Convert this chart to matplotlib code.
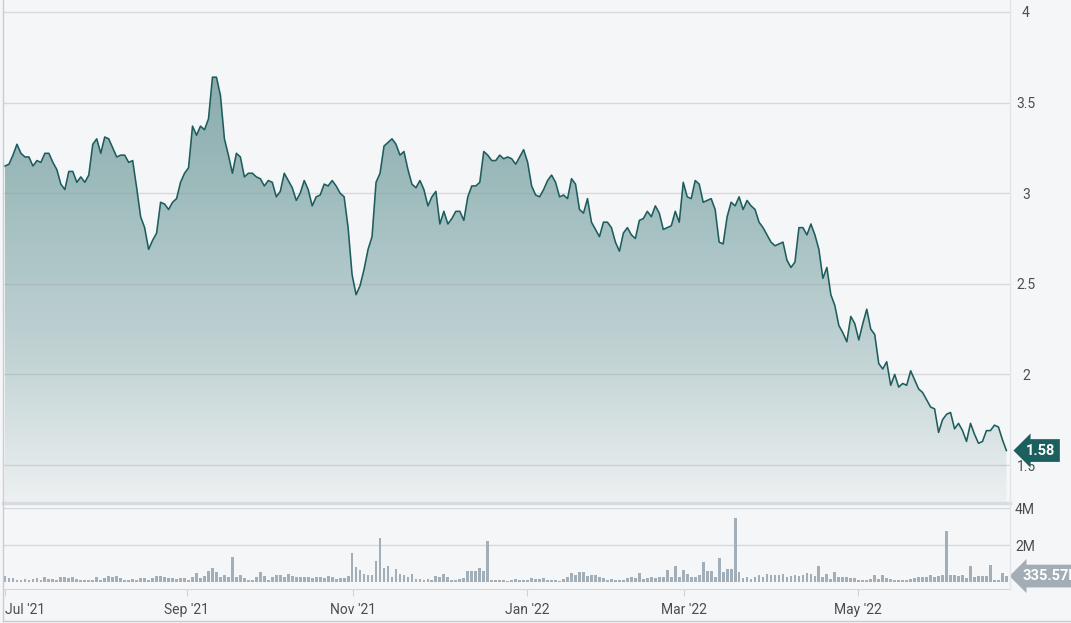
import numpy as np
import matplotlib
matplotlib.use("Agg")
import matplotlib.pyplot as plt
from matplotlib.colors import LinearSegmentedColormap
from matplotlib.transforms import blended_transform_factory
from matplotlib.lines import Line2D

plt.rcParams['font.family'] = ['Roboto', 'DejaVu Sans']

# daily close, Jul '21 - Jun '22
price = [
    3.15, 3.16, 3.21, 3.27, 3.22, 3.20, 3.20, 3.15, 3.18, 3.17,
    3.22, 3.22, 3.17, 3.13, 3.05, 3.02, 3.12, 3.12, 3.06, 3.09,
    3.06, 3.10, 3.27, 3.30, 3.22, 3.31, 3.30, 3.25, 3.20, 3.21,
    3.21, 3.17, 3.18, 3.03, 2.87, 2.81, 2.69, 2.74, 2.78, 2.95,
    2.94, 2.91, 2.95, 2.97, 3.06, 3.11, 3.14, 3.37, 3.32, 3.37,
    3.35, 3.41, 3.64, 3.64, 3.54, 3.30, 3.21, 3.11, 3.22, 3.20,
    3.09, 3.11, 3.11, 3.09, 3.08, 3.04, 3.07, 3.06, 2.98, 3.01,
    3.11, 3.07, 3.03, 2.96, 3.00, 3.07, 3.02, 2.93, 2.98, 2.99,
    3.05, 3.04, 3.07, 3.04, 3.00, 2.98, 2.81, 2.55, 2.44, 2.49,
    2.58, 2.69, 2.76, 3.06, 3.11, 3.26, 3.28, 3.30, 3.27, 3.21,
    3.23, 3.13, 3.05, 3.03, 3.07, 3.02, 2.93, 2.98, 3.01, 2.83,
    2.90, 2.83, 2.86, 2.90, 2.90, 2.85, 2.98, 3.04, 3.04, 3.06,
    3.23, 3.21, 3.18, 3.18, 3.21, 3.19, 3.20, 3.19, 3.16, 3.20,
    3.24, 3.17, 3.04, 2.99, 2.98, 3.02, 3.07, 3.10, 3.06, 2.98,
    2.99, 2.97, 3.08, 3.05, 2.91, 2.89, 2.97, 2.84, 2.80, 2.76,
    2.84, 2.84, 2.81, 2.73, 2.68, 2.78, 2.81, 2.77, 2.75, 2.85,
    2.86, 2.90, 2.87, 2.93, 2.89, 2.80, 2.81, 2.82, 2.90, 2.84,
    3.06, 2.98, 2.97, 3.07, 3.05, 2.95, 2.96, 2.97, 2.91, 2.73,
    2.72, 2.87, 2.95, 2.93, 2.98, 2.91, 2.96, 2.93, 2.91, 2.84,
    2.81, 2.77, 2.73, 2.71, 2.72, 2.73, 2.63, 2.59, 2.62, 2.81,
    2.81, 2.77, 2.83, 2.77, 2.69, 2.53, 2.59, 2.44, 2.38, 2.27,
    2.23, 2.18, 2.32, 2.28, 2.19, 2.28, 2.36, 2.25, 2.22, 2.06,
    2.03, 2.07, 1.94, 2.00, 1.93, 1.95, 1.94, 2.02, 1.97, 1.92,
    1.90, 1.86, 1.82, 1.81, 1.68, 1.75, 1.78, 1.79, 1.70, 1.73,
    1.69, 1.63, 1.73, 1.67, 1.62, 1.63, 1.69, 1.69, 1.72, 1.71,
    1.64, 1.58,
]

# daily volume in millions
volume = [
    0.33, 0.22, 0.22, 0.10, 0.10, 0.20, 0.10, 0.20, 0.25, 0.15,
    0.30, 0.20, 0.20, 0.10, 0.30, 0.30, 0.25, 0.30, 0.20, 0.15,
    0.12, 0.12, 0.15, 0.30, 0.12, 0.25, 0.35, 0.30, 0.35, 0.25,
    0.10, 0.10, 0.20, 0.12, 0.22, 0.25, 0.15, 0.25, 0.35, 0.32,
    0.30, 0.25, 0.22, 0.18, 0.22, 0.25, 0.15, 0.30, 0.50, 0.25,
    0.35, 0.60, 0.80, 0.55, 0.30, 0.40, 0.30, 1.37, 0.30, 0.40,
    0.25, 0.15, 0.15, 0.30, 0.55, 0.35, 0.15, 0.30, 0.40, 0.40,
    0.30, 0.45, 0.35, 0.30, 0.30, 0.30, 0.30, 0.25, 0.30, 0.30,
    0.25, 0.35, 0.30, 0.20, 0.22, 0.25, 0.35, 1.59, 0.84, 0.66,
    0.45, 0.42, 0.40, 1.14, 2.41, 0.75, 0.91, 0.30, 0.70, 0.45,
    0.38, 0.30, 0.45, 0.20, 0.20, 0.15, 0.20, 0.12, 0.35, 0.30,
    0.45, 0.30, 0.15, 0.15, 0.20, 0.25, 0.62, 0.62, 0.62, 0.80,
    0.60, 2.21, 0.15, 0.10, 0.10, 0.10, 0.05, 0.10, 0.20, 0.10,
    0.12, 0.15, 0.22, 0.20, 0.20, 0.25, 0.15, 0.15, 0.12, 0.05,
    0.20, 0.30, 0.50, 0.40, 0.55, 0.55, 0.35, 0.40, 0.42, 0.30,
    0.22, 0.15, 0.20, 0.15, 0.15, 0.15, 0.25, 0.28, 0.22, 0.48,
    0.20, 0.25, 0.30, 0.25, 0.30, 0.30, 0.66, 0.30, 0.88, 0.30,
    0.67, 0.45, 0.30, 0.30, 0.40, 1.12, 0.60, 0.60, 0.30, 1.33,
    0.58, 0.70, 0.72, 3.46, 0.54, 0.25, 0.30, 0.20, 0.30, 0.40,
    0.30, 0.45, 0.40, 0.40, 0.40, 0.45, 0.30, 0.35, 0.40, 0.35,
    0.40, 0.50, 0.45, 0.35, 0.88, 0.30, 0.45, 0.20, 0.54, 0.30,
    0.30, 0.30, 0.25, 0.25, 0.15, 0.15, 0.15, 0.20, 0.40, 0.20,
    0.40, 0.25, 0.20, 0.15, 0.15, 0.12, 0.15, 0.20, 0.25, 0.30,
    0.30, 0.30, 0.40, 0.30, 0.35, 0.40, 2.78, 0.40, 0.40, 0.35,
    0.40, 0.25, 0.86, 0.30, 0.35, 0.35, 0.35, 0.94, 0.15, 0.12,
    0.49, 0.34,
]

month_labels = ["Jul '21", "Sep '21", "Nov '21", "Jan '22", "Mar '22", "May '22"]
price_ticks = [1.5, 2, 2.5, 3, 3.5, 4]
vol_ticks = [2, 4]
last_price_label = "1.58"
last_vol_label = "335.57K"

bg = '#f5f6f8'
grid_c = '#8e98a2'
line_c = '#1e5d5d'
text_c = '#4a4d52'

x = np.arange(len(price))
month_idx = [0, 45.6, 87.2, 130.8, 170.2, 213.8]
xlim = (-0.25, 251.9)

W, H = 1071, 623
fig = plt.figure(figsize=(W / 100, H / 100), dpi=100, facecolor=bg)
ax = fig.add_axes([4 / W, 1 - 502 / H, 1006 / W, 502 / H], facecolor=bg)
axv = fig.add_axes([4 / W, 1 - 589 / H, 1006 / W, 81 / H], facecolor=bg)

ylo, yhi = 1.296, 4.066
ax.set_xlim(*xlim)
ax.set_ylim(ylo, yhi)

# gradient area under the line
cmap = LinearSegmentedColormap.from_list('g', ['#edf0f1', '#c2d3d4', '#a3bfc0', '#89aaab'])
grad = np.linspace(0, 1, 256).reshape(-1, 1)
im = ax.imshow(grad, cmap=cmap, origin='lower', aspect='auto',
               extent=[xlim[0], xlim[1], ylo, 3.7], zorder=1)
poly = ax.fill_between(x, price, ylo, facecolor='none', edgecolor='none')
im.set_clip_path(poly.get_paths()[0], transform=ax.transData)
ax.plot(x, price, color=line_c, lw=1.15, zorder=3)

ax.set_yticks(price_ticks)
ax.set_yticklabels(['%g' % t for t in price_ticks])
ax.yaxis.tick_right()
ax.tick_params(axis='y', length=0, pad=11.5, labelsize=10, colors=text_c)
for lab in ax.get_yticklabels():
    lab.set_horizontalalignment('center')
ax.grid(axis='y', color=grid_c, alpha=0.3, lw=1)
ax.set_xticks([])
for s in ax.spines.values():
    s.set_visible(False)

# last price tag
tr = blended_transform_factory(ax.transAxes, ax.transData)
ax.text(1.016, price[-1], last_price_label, transform=tr, ha='left', va='center',
        color='white', fontsize=10.5, fontweight='bold', zorder=10, clip_on=False,
        bbox=dict(boxstyle='larrow,pad=0.3', fc='#1b5f5f', ec='none'))

# volume
axv.bar(x, volume, width=0.7, color='#a3afb8', zorder=2)
axv.set_xlim(*xlim)
axv.set_ylim(-0.36, 4.02)
axv.set_yticks(vol_ticks)
axv.set_yticklabels(['%dM' % v for v in vol_ticks])
axv.yaxis.tick_right()
axv.tick_params(axis='y', length=0, pad=3.6, labelsize=10, colors=text_c)
axv.grid(axis='y', color=grid_c, alpha=0.3, lw=1)
axv.set_xticks(month_idx)
axv.set_xticklabels(month_labels)
axv.tick_params(axis='x', length=5, color='#cfd3d8', pad=5, labelsize=10, labelcolor=text_c)
axv.get_xticklabels()[0].set_horizontalalignment('left')
for k, s in axv.spines.items():
    s.set_visible(k == 'bottom')
axv.spines['bottom'].set_color('#d3d7db')

trv = blended_transform_factory(axv.transAxes, axv.transData)
axv.text(1.012, volume[-1], last_vol_label, transform=trv, ha='left', va='center',
         color='white', fontsize=10.5, fontweight='bold', zorder=10, clip_on=False,
         bbox=dict(boxstyle='larrow,pad=0.3', fc='#a3adb5', ec='none'))

# panel frame lines
fig.add_artist(Line2D([3 / W, 1010 / W], [1 - 503 / H] * 2, color='#d8dce0', lw=2.5))
fig.add_artist(Line2D([3 / W, 3 / W], [1 - 621 / H, 1], color='#c9cdd2', lw=1))
fig.add_artist(Line2D([1010 / W, 1010 / W], [1 - 589 / H, 1], color='#e2e5e8', lw=1))
fig.add_artist(Line2D([3 / W, 1], [1 - 621 / H] * 2, color='#c9cdd2', lw=1))

fig.savefig('out.png', dpi=100, facecolor=bg)
